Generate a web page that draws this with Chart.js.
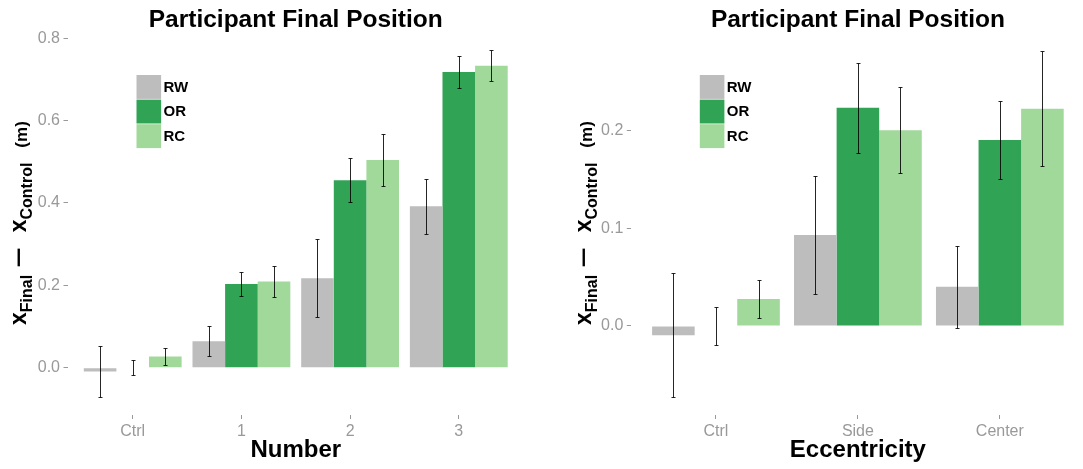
<!DOCTYPE html>
<html>
<head>
<meta charset="utf-8">
<script src="https://cdn.jsdelivr.net/npm/chart.js@4.4.1/dist/chart.umd.min.js"></script>
<style>
  html, body { margin: 0; padding: 0; background: #fff; overflow: hidden; width: 1083px; height: 469px; }
  .panel { position: absolute; top: 0; height: 469px; }
  #panel-number { left: 0; width: 541px; }
  #panel-ecc { left: 541px; width: 544px; }
</style>
</head>
<body>
<div class="panel" id="panel-number"><canvas id="chart-number"></canvas></div>
<div class="panel" id="panel-ecc"><canvas id="chart-ecc"></canvas></div>
<script>
const SERIES = ['RW', 'OR', 'RC'];
const COLORS = ['#bdbdbd', '#31a354', '#a1d99b'];
const TITLE = 'Participant Final Position';

// left panel: Number
const NUMBER_CATS = ['Ctrl', '1', '2', '3'];
const NUMBER_RW = [-0.0095, 0.064, 0.217, 0.392];
const NUMBER_OR = [0.0, 0.203, 0.455, 0.718];
const NUMBER_RC = [0.027, 0.209, 0.504, 0.733];
const NUMBER_RW_ERR = [0.063, 0.036, 0.095, 0.067];
const NUMBER_OR_ERR = [0.019, 0.030, 0.053, 0.038];
const NUMBER_RC_ERR = [0.020, 0.037, 0.064, 0.038];
const NUMBER_YTICKS = [0, 0.2, 0.4, 0.6, 0.8];

// right panel: Eccentricity
const ECC_CATS = ['Ctrl', 'Side', 'Center'];
const ECC_RW = [-0.0095, 0.093, 0.040];
const ECC_OR = [0.0, 0.223, 0.190];
const ECC_RC = [0.0276, 0.200, 0.222];
const ECC_RW_ERR = [0.0635, 0.060, 0.042];
const ECC_OR_ERR = [0.019, 0.046, 0.040];
const ECC_RC_ERR = [0.0195, 0.044, 0.059];
const ECC_YTICKS = [0, 0.1, 0.2];

// y axis title pieces: x_Final − x_Control (m)
const Y_TITLE_PARTS = [
  { text: 'x', size: 23 },
  { text: 'Final', size: 16, shift: 6 },
  { text: '\u2212', size: 22, gap: 7, stretch: 1.6 },
  { text: 'x', size: 23, gap: 15 },
  { text: 'Control', size: 16, shift: 6 },
  { text: '(m)', size: 17, gap: 15, shift: 1 },
];

const FONT = '"Liberation Sans", Arial, Helvetica, sans-serif';
const TICK_GREY = '#999999';
Chart.defaults.font.family = FONT;

const errorBars = {
  id: 'errorBars',
  afterDatasetsDraw(chart) {
    const { ctx } = chart;
    const yScale = chart.scales.y;
    const cap = 2;
    ctx.save();
    ctx.strokeStyle = 'rgba(0, 0, 0, 0.85)';
    ctx.lineWidth = 1;
    chart.data.datasets.forEach((ds, di) => {
      const meta = chart.getDatasetMeta(di);
      meta.data.forEach((bar, i) => {
        const v = ds.data[i].y;
        const e = ds.errors[i];
        const x = Math.round(bar.x) + 0.5;
        const top = Math.round(yScale.getPixelForValue(v + e)) + 0.5;
        const bot = Math.round(yScale.getPixelForValue(v - e)) + 0.5;
        ctx.beginPath();
        ctx.moveTo(x, top); ctx.lineTo(x, bot);
        ctx.moveTo(x - cap, top); ctx.lineTo(x + cap, top);
        ctx.moveTo(x - cap, bot); ctx.lineTo(x + cap, bot);
        ctx.stroke();
      });
    });
    ctx.restore();
  },
};

const keyLegend = {
  id: 'keyLegend',
  afterDraw(chart, args, opts) {
    const { ctx, chartArea } = chart;
    const x0 = chartArea.left + opts.offsetX;
    const y0 = chartArea.top + opts.offsetY;
    ctx.save();
    ctx.font = 'bold 15px ' + FONT;
    ctx.textBaseline = 'middle';
    chart.data.datasets.forEach((ds, i) => {
      const y = y0 + i * 24.6;
      ctx.fillStyle = ds.backgroundColor;
      ctx.fillRect(x0, y, 24.6, 23.9);
      ctx.fillStyle = '#000';
      ctx.fillText(ds.label, x0 + 27, y + 12.5);
    });
    ctx.restore();
  },
};

const yTitle = {
  id: 'yTitle',
  afterDraw(chart, args, opts) {
    const { ctx } = chart;
    ctx.save();
    ctx.translate(opts.x, opts.y);
    ctx.rotate(-Math.PI / 2);
    ctx.fillStyle = '#000';
    ctx.textBaseline = 'alphabetic';
    let pos = 0;
    Y_TITLE_PARTS.forEach((p) => {
      pos += p.gap || 0;
      ctx.font = 'bold ' + p.size + 'px ' + FONT;
      const stretch = p.stretch || 1;
      ctx.save();
      ctx.translate(pos, p.shift || 0);
      ctx.scale(stretch, 1);
      ctx.fillText(p.text, 0, 0);
      ctx.restore();
      pos += ctx.measureText(p.text).width * stretch;
    });
    ctx.restore();
  },
};

function makeChart(canvasId, cats, values, errors, yMin, yMax, yTicks, xTitle, axisWidth, padRight, titleX) {
  const ctx = document.getElementById(canvasId).getContext('2d');
  return new Chart(ctx, {
    type: 'bar',
    data: {
      datasets: values.map((vals, k) => ({
        label: SERIES[k],
        data: vals.map((v, i) => ({ x: i, y: v })),
        errors: errors[k],
        backgroundColor: COLORS[k],
        borderWidth: 0,
        categoryPercentage: 0.9,
        barPercentage: 1,
      })),
    },
    options: {
      responsive: true,
      maintainAspectRatio: false,
      animation: false,
      layout: { padding: { left: 0, right: padRight, top: 0, bottom: 0 } },
      plugins: {
        legend: { display: false },
        tooltip: { enabled: false },
        title: {
          display: true,
          text: TITLE,
          fullSize: false,
          color: '#000',
          font: { size: 24.5, weight: 'bold', lineHeight: 1 },
          padding: { top: 7.9, bottom: 0 },
        },
        keyLegend: { offsetX: 69, offsetY: 42.6 },
        yTitle: { x: titleX, y: 325 },
      },
      scales: {
        x: {
          type: 'linear',
          offset: false,
          min: -0.6,
          max: cats.length - 0.4,
          afterBuildTicks: (s) => { s.ticks = cats.map((c, i) => ({ value: i })); },
          afterFit: (s) => { s.height = 54; },
          ticks: {
            callback: (v) => cats[v],
            color: TICK_GREY,
            font: { size: 16, lineHeight: 1 },
            padding: 4.5,
            maxRotation: 0,
            autoSkip: false,
          },
          grid: { display: true, offset: false, drawOnChartArea: false, drawTicks: true, tickLength: 4, color: '#999999' },
          border: { display: false },
          title: {
            display: true,
            text: xTitle,
            color: '#000',
            font: { size: 24, weight: 'bold', lineHeight: 1 },
            padding: { top: 0, bottom: 7 },
          },
        },
        y: {
          min: yMin,
          max: yMax,
          afterBuildTicks: (s) => { s.ticks = yTicks.map((v) => ({ value: v })); },
          afterFit: (s) => { s.width = axisWidth; },
          ticks: {
            callback: (v) => v.toFixed(1),
            color: TICK_GREY,
            font: { size: 16 },
            padding: 3.5,
          },
          grid: { display: true, drawOnChartArea: false, drawTicks: true, tickLength: 4, color: '#999999' },
          border: { display: false },
        },
      },
    },
    plugins: [errorBars, keyLegend, yTitle],
  });
}

makeChart('chart-number', NUMBER_CATS,
  [NUMBER_RW, NUMBER_OR, NUMBER_RC],
  [NUMBER_RW_ERR, NUMBER_OR_ERR, NUMBER_RC_ERR],
  -0.115, 0.814, NUMBER_YTICKS, 'Number', 67.5, 17, 26);

makeChart('chart-ecc', ECC_CATS,
  [ECC_RW, ECC_OR, ECC_RC],
  [ECC_RW_ERR, ECC_OR_ERR, ECC_RC_ERR],
  -0.091, 0.300, ECC_YTICKS, 'Eccentricity', 89.8, 0, 50);
</script>
</body>
</html>
